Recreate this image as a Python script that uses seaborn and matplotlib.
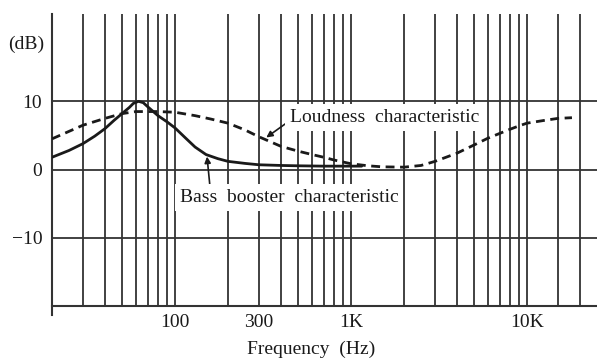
import matplotlib
matplotlib.use("Agg")
import matplotlib.pyplot as plt
import seaborn as sns
import pandas as pd

# ---- data ----
bass_freq = [20, 25, 30, 35, 40, 45, 50, 55, 58, 62, 66, 70, 80, 90, 100, 115, 130, 150, 175, 200, 250, 300, 400, 500, 700, 1000, 1150]
bass_db = [1.8, 2.8, 3.8, 4.9, 6.0, 7.2, 8.2, 9.1, 9.7, 10.0, 9.8, 9.2, 7.9, 7.0, 6.1, 4.6, 3.3, 2.2, 1.6, 1.2, 0.9, 0.7, 0.6, 0.55, 0.5, 0.5, 0.5]

loud_freq = [20, 25, 30, 40, 50, 60, 80, 100, 130, 160, 200, 250, 300, 400, 500, 600, 700, 800, 1000, 1250, 1500, 2000, 2500, 3000, 4000, 5000, 6000, 7000, 8000, 9000, 10000, 12500, 15000, 18000]
loud_db = [4.5, 5.6, 6.5, 7.5, 8.2, 8.5, 8.5, 8.4, 7.9, 7.4, 6.8, 5.8, 4.8, 3.4, 2.7, 2.2, 1.8, 1.4, 0.85, 0.55, 0.4, 0.35, 0.6, 1.2, 2.4, 3.6, 4.6, 5.3, 5.9, 6.4, 6.8, 7.2, 7.5, 7.6]

x_major = [100, 300, 1000, 10000]
x_major_labels = ["100", "300", "1K", "10K"]
x_minor = [30, 40, 50, 60, 70, 80, 90, 200, 400, 500, 600, 700, 800, 900,
           2000, 3000, 4000, 5000, 6000, 7000, 8000, 9000, 15000, 20000]
y_ticks = [-10, 0, 10]
y_tick_labels = ["\u221210", "0", "10"]

sns.set_style("white")
plt.rcParams["font.family"] = ["Liberation Serif", "DejaVu Serif"]

INK = "#1a1a1a"
GRID = "#333333"
FS = 14

fig = plt.figure(figsize=(5.97, 3.58), dpi=100)
ax = fig.add_axes([52 / 597, 52 / 358, 545 / 597, 292 / 358])

bass = pd.DataFrame({"f": bass_freq, "db": bass_db})
loud = pd.DataFrame({"f": loud_freq, "db": loud_db})
sns.lineplot(data=bass, x="f", y="db", ax=ax, color=INK, lw=2.0, zorder=4)
sns.lineplot(data=loud, x="f", y="db", ax=ax, color=INK, lw=2.0, zorder=4,
             linestyle=(0, (3.2, 2.0)))

ax.set_xscale("log")
ax.set_xlim(20, 24980)
ax.set_ylim(-20, 22.8)

ax.set_xticks(x_major)
ax.set_xticklabels(x_major_labels)
ax.set_xticks(x_minor, minor=True)
ax.set_xticklabels([], minor=True)
ax.set_yticks(y_ticks)
ax.set_yticklabels(y_tick_labels)
ax.tick_params(axis="both", which="both", length=0, labelsize=FS, colors=INK)
ax.tick_params(axis="x", pad=6)
ax.tick_params(axis="y", pad=7)

ax.grid(True, axis="x", which="both", color=GRID, lw=1.3)
ax.grid(True, axis="y", which="major", color=GRID, lw=1.3)
ax.set_axisbelow(True)

for s in ["top", "right"]:
    ax.spines[s].set_visible(False)
for s in ["left", "bottom"]:
    ax.spines[s].set_color(GRID)
    ax.spines[s].set_linewidth(1.5)
ax.spines["left"].set_bounds(-21.3, 22.8)

ax.set_xlabel("Frequency  (Hz)", fontsize=FS, color=INK)
ax.set_ylabel("")
ax.xaxis.set_label_coords((311 - 52) / 545, -0.12)

ax.text(-0.015, 0.897, "(dB)", transform=ax.transAxes, ha="right", va="center",
        fontsize=FS, color=INK)

bb = dict(boxstyle="square,pad=0.25", fc="white", ec="none")
ax.annotate("Loudness  characteristic", xy=(330, 4.7), xytext=(1560, 7.6),
            fontsize=FS, color=INK, ha="center", va="center", bbox=bb, zorder=5,
            arrowprops=dict(arrowstyle="-|>", color=INK, lw=1.2, mutation_scale=9,
                            relpos=(0.0, 0.35), shrinkA=0, shrinkB=0))
ax.annotate("Bass  booster  characteristic", xy=(152, 1.9), xytext=(444, -4.1),
            fontsize=FS, color=INK, ha="center", va="center", bbox=bb, zorder=5,
            arrowprops=dict(arrowstyle="-|>", color=INK, lw=1.2, mutation_scale=9,
                            relpos=(0.14, 1.0), shrinkA=0, shrinkB=0))

fig.savefig("out.png", dpi=100, facecolor="white")
